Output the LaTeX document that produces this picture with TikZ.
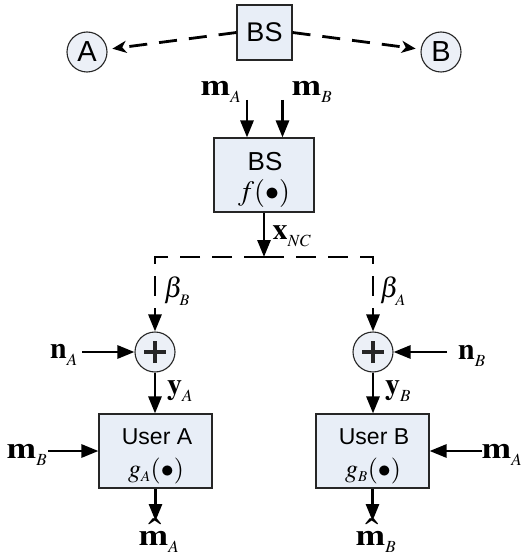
\documentclass[tikz,border=0pt]{standalone}
\usepackage{mathptmx}
\usepackage{fontspec}
\setmainfont{Liberation Serif}
\setsansfont{Liberation Sans}
\usetikzlibrary{arrows.meta,calc}

\DeclareMathSizes{30}{30}{17}{13}
\DeclareMathSizes{28}{28}{16}{12}
\DeclareMathSizes{26}{26}{15}{11}

\definecolor{boxfill}{RGB}{232,238,247}
\definecolor{ringfill}{RGB}{236,240,247}

% subscript set a little lower than TeX's default
\newcommand\lowsub[1]{_{\lower3pt\hbox{$\scriptstyle #1$}}}
% the wide bold message symbol
\newcommand\msg{\scalebox{1.18}[1]{$\mathbf{m}$}}

\tikzset{
  blk/.style={draw=black!85, line width=1.1pt, fill=boxfill, inner sep=0pt},
  boxtxt/.style={inner sep=0pt, font=\sffamily\fontsize{23}{23}\selectfont},
  boxfn/.style={inner sep=0pt, font=\fontsize{26}{26}\selectfont},
  ring/.style={circle, draw=black!85, line width=1.1pt, fill=ringfill,
    minimum size=40pt, inner sep=0pt, font=\sffamily\fontsize{29}{29}\selectfont},
  adder/.style={ring, path picture={
    \draw[line width=3.8pt]
      ($(path picture bounding box.center)+(-11pt,0pt)$) --
      ($(path picture bounding box.center)+(11pt,0pt)$)
      ($(path picture bounding box.center)+(0pt,-11pt)$) --
      ($(path picture bounding box.center)+(0pt,11pt)$);}},
  sig/.style={line width=2.8pt, -{Triangle[length=17pt,width=13pt]}},
  dflow/.style={sig, dash pattern=on 20pt off 12pt},
  link/.style={line width=2.8pt, dash pattern=on 18pt off 12pt,
    -{Stealth[length=14pt,width=12pt,inset=4pt]}, shorten >=5pt},
  lbl/.style={inner sep=0pt, font=\fontsize{30}{30}\selectfont},
  glbl/.style={inner sep=0pt, font=\fontsize{28}{28}\selectfont},
  hatmark/.style={inner sep=0pt, anchor=north, font=\fontsize{40}{40}\selectfont},
}

\begin{document}
\begin{tikzpicture}[x=1pt,y=-1pt]
\useasboundingbox (0,0) rectangle (522,556);

% broadcast station and the two users
\node[blk, minimum width=55pt, minimum height=55pt,
      font=\sffamily\fontsize{27}{27}\selectfont] (bsTop) at (264.5,32.5) {BS};
\node[ring] (cA) at (87,52) {A};
\node[ring] (cB) at (441,52) {B};
\draw[link] (bsTop.west) -- (cA);
\draw[link] (bsTop.east) -- (cB);

% network-coding encoder at the station
\node[blk, minimum width=100pt, minimum height=74pt] (bsMid) at (264,175) {};
\node[boxtxt, font=\sffamily\fontsize{26}{26}\selectfont] (bsMidName) at (265,162) {BS};
\node[boxfn, font=\fontsize{28}{28}\selectfont] (bsMidFn) at (264,193) {$f(\bullet)$};
\coordinate (inA) at (247,100);
\coordinate (inB) at (282.5,100);
\draw[sig] (inA) -- (inA |- bsMid.north);
\draw[sig] (inB) -- (inB |- bsMid.north);
\node[lbl] (mAtop) at (221,92) {$\msg\lowsub{A}$};
\node[lbl] (mBtop) at (312,92) {$\msg\lowsub{B}$};

\coordinate (split) at (264,257);
\draw[sig] (bsMid.south) -- (split);
\node[lbl] (xnc) at (292,236) {$\mathbf{x}\lowsub{NC}$};

% channels to the adders
\node[adder] (sumA) at (155,352) {};
\node[adder] (sumB) at (373,352) {};
\draw[dflow] (split) -| (sumA.north);
\draw[dflow] (split) -| (sumB.north);
\node[glbl] (betaB) at (177,291) {$\beta\lowsub{B}$};
\node[glbl] (betaA) at (393,291) {$\beta\lowsub{A}$};

% noise inputs
\coordinate (nAin) at (82,352);
\coordinate (nBin) at (447,352);
\draw[sig] (nAin) -- (sumA.west);
\draw[sig] (nBin) -- (sumB.east);
\node[lbl] (nA) at (64,355) {$\mathbf{n}\lowsub{A}$};
\node[lbl] (nB) at (472,356) {$\mathbf{n}\lowsub{B}$};

% decoders at the users
\node[blk, minimum width=113pt, minimum height=74pt] (userA) at (155.5,451) {};
\node[blk, minimum width=113pt, minimum height=74pt] (userB) at (372.5,451) {};
\node[boxtxt] (userAName) at (157,437) {User A};
\node[boxtxt] (userBName) at (374,437) {User B};
\node[boxfn] (userAFn) at (156,471) {$g_A(\bullet)$};
\node[boxfn] (userBFn) at (373,471) {$g_B(\bullet)$};
\draw[sig] (sumA.south) -- (sumA.south |- userA.north);
\draw[sig] (sumB.south) -- (sumB.south |- userB.north);
\node[lbl] (yA) at (180,391) {$\mathbf{y}\lowsub{A}$};
\node[lbl] (yB) at (398,391) {$\mathbf{y}\lowsub{B}$};

% side information
\coordinate (sideA) at (48,451);
\coordinate (sideB) at (482,451);
\draw[sig] (sideA) -- (userA.west);
\draw[sig] (sideB) -- (userB.east);
\node[lbl] (mBside) at (27,455) {$\msg\lowsub{B}$};
\node[lbl] (mAside) at (502,455) {$\msg\lowsub{A}$};

% decoded messages
\coordinate (outA) at (155.5,521);
\coordinate (outB) at (372.5,521);
\draw[sig] (userA.south) -- (outA);
\draw[sig] (userB.south) -- (outB);
\node[hatmark] (hatA) at (155.5,518.5) {\symbol{"02C6}};
\node[hatmark] (hatB) at (372.5,518.5) {\symbol{"02C6}};
\node[lbl] (estA) at (159,542) {$\msg\lowsub{A}$};
\node[lbl] (estB) at (376,542) {$\msg\lowsub{B}$};
\end{tikzpicture}
\end{document}
